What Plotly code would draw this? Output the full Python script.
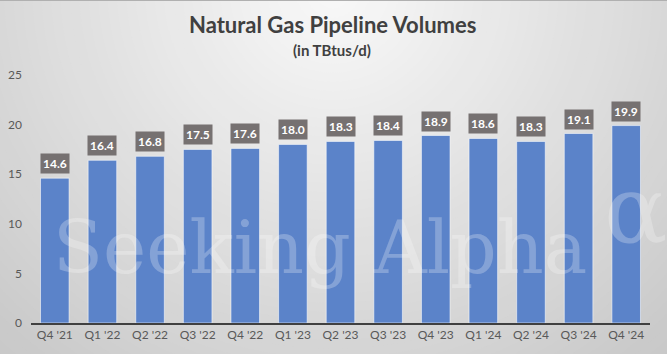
import plotly.graph_objects as go

categories = ["Q4 '21", "Q1 '22", "Q2 '22", "Q3 '22", "Q4 '22", "Q1 '23", "Q2 '23",
              "Q3 '23", "Q4 '23", "Q1 '24", "Q2 '24", "Q3 '24", "Q4 '24"]
volumes = [14.6, 16.4, 16.8, 17.5, 17.6, 18.0, 18.3, 18.4, 18.9, 18.6, 18.3, 19.1, 19.9]
y_ticks = [0, 5, 10, 15, 20, 25]

W, H = 667, 354
ML, MR, MT, MB = 31, 17, 75, 31
PW, PH = W - ML - MR, H - MT - MB


def px(x):
    return (x - ML) / PW


def py(y):
    return (H - MB - y) / PH


fig = go.Figure()
fig.add_trace(go.Bar(
    x=categories, y=volumes,
    marker=dict(color="#5B83C9", line=dict(color="rgba(255,255,255,0.55)", width=1)),
    width=0.6, hoverinfo="skip",
))

# background radial gradient (decorative)
shapes = []
cx, cy = 333, -10
RX, RY = 470, 460
c0, c1 = 249, 192
n = 70
rmax = 1.4
for i in range(n):
    r = rmax * (n - i) / n
    t = min(r, 1.25) / 1.25
    g = int(round(c0 + (c1 - c0) * t))
    col = f"rgb({g},{g},{g})"
    shapes.append(dict(type="circle", xref="paper", yref="paper",
                       x0=px(cx - RX * r), x1=px(cx + RX * r),
                       y0=py(cy + RY * r), y1=py(cy - RY * r),
                       fillcolor=col, line=dict(width=0), layer="below"))
shapes.append(dict(type="line", xref="paper", yref="paper",
                   x0=px(0), x1=px(W), y0=py(0.5), y1=py(0.5),
                   line=dict(color="#b0b0b0", width=1), layer="below"))

annotations = []
for c, v in zip(categories, volumes):
    annotations.append(dict(
        x=c, y=v, xref="x", yref="y", text=f"<b>{v:.1f}</b>", showarrow=False,
        yanchor="bottom", yshift=4, bgcolor="#767171", borderpad=2,
        font=dict(family="Lato, 'Open Sans', sans-serif", size=12, color="white"),
    ))

annotations.append(dict(
    x=px(332), y=py(25), xref="paper", yref="paper", showarrow=False,
    text="<b>Natural Gas Pipeline Volumes</b>", xanchor="center", yanchor="middle",
    font=dict(family="Lato, 'Open Sans', sans-serif", size=22, color="#404040"),
))
annotations.append(dict(
    x=px(332), y=py(50), xref="paper", yref="paper", showarrow=False,
    text="<b>(in TBtus/d)</b>", xanchor="center", yanchor="middle",
    font=dict(family="Lato, 'Open Sans', sans-serif", size=15, color="#404040"),
))
# watermark
annotations.append(dict(
    x=px(51), y=py(247), xref="paper", yref="paper", showarrow=False,
    text="Seeking Alpha", xanchor="left", yanchor="middle",
    font=dict(family="'DejaVu Serif', serif", size=73, color="rgba(255,255,255,0.25)"),
))
annotations.append(dict(
    x=px(602), y=py(209), xref="paper", yref="paper", showarrow=False,
    text="α", xanchor="left", yanchor="middle",
    font=dict(family="'DejaVu Serif', serif", size=94, color="rgba(255,255,255,0.25)"),
))

fig.update_layout(
    width=W, height=H,
    margin=dict(l=ML, r=MR, t=MT, b=MB, autoexpand=False),
    paper_bgcolor="#e6e6e6", plot_bgcolor="rgba(0,0,0,0)",
    showlegend=False, bargap=0.4,
    shapes=shapes, annotations=annotations,
    font=dict(family="Lato, 'Open Sans', sans-serif", color="#595959", size=12),
    xaxis=dict(showgrid=False, showline=True, linecolor="#404040", linewidth=2,
               ticks="", tickfont=dict(size=12, color="#595959"), fixedrange=True),
    yaxis=dict(range=[0, 25], tickvals=y_ticks, showgrid=False, zeroline=False,
               showline=False, ticks="", ticklabelstandoff=8,
               tickfont=dict(size=12, color="#595959"), fixedrange=True),
)

fig.write_html("out.html", config={"displayModeBar": False})
